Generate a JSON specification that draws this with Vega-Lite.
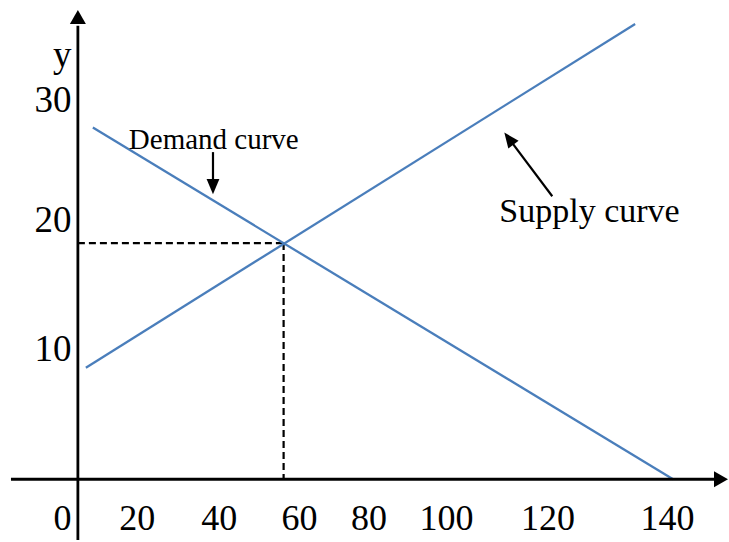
{
  "$schema": "https://vega.github.io/schema/vega-lite/v6.json",
  "width": 729,
  "height": 542,
  "autosize": {"type": "fit", "contains": "padding"},
  "padding": 0,
  "background": "white",
  "config": {"view": {"stroke": null}},
  "encoding": {
    "x": {"field": "x", "type": "quantitative", "scale": {"domain": [-18.32, 152.92], "nice": false, "zero": false}, "axis": null},
    "y": {"field": "y", "type": "quantitative", "scale": {"domain": [-4.75, 37.46], "nice": false, "zero": false}, "axis": null}
  },
  "layer": [
    {
      "data": {"values": [
        {"x": 0, "y": 18.46, "x2": 48.39, "y2": 18.46},
        {"x": 48.39, "y": 18.46, "x2": 48.39, "y2": 0}
      ]},
      "mark": {"type": "rule", "color": "black", "strokeWidth": 2.2, "strokeDash": [7, 4]},
      "encoding": {"x2": {"field": "x2"}, "y2": {"field": "y2"}}
    },
    {
      "data": {"values": [
        {"curve": "Demand", "x": 3.52, "y": 27.49},
        {"curve": "Demand", "x": 140, "y": 0},
        {"curve": "Supply", "x": 1.88, "y": 8.72},
        {"curve": "Supply", "x": 131.08, "y": 35.59}
      ]},
      "mark": {"type": "line", "color": "#4a7ebb", "strokeWidth": 2.3},
      "encoding": {"detail": {"field": "curve", "type": "nominal"}}
    },
    {
      "data": {"values": [
        {"axis": "x", "x": -15.74, "y": 0, "x2": 150.34, "y2": 0},
        {"axis": "y", "x": 0, "y": -4.75, "x2": 0, "y2": 35.44}
      ]},
      "mark": {"type": "rule", "color": "black", "strokeWidth": 2.8},
      "encoding": {"x2": {"field": "x2"}, "y2": {"field": "y2"}}
    },
    {
      "data": {"values": [{"axis": "y", "x": 0, "y": 36.14}]},
      "mark": {"type": "point", "shape": "M0,-0.875L1,0.875L-1,0.875Z", "filled": true, "size": 256, "color": "black", "opacity": 1, "strokeWidth": 0, "angle": 0}
    },
    {
      "data": {"values": [{"axis": "x", "x": 151.28, "y": 0}]},
      "mark": {"type": "point", "shape": "M0,-0.875L1,0.875L-1,0.875Z", "filled": true, "size": 256, "color": "black", "opacity": 1, "strokeWidth": 0, "angle": 90}
    },
    {
      "data": {"values": [
        {"note": "Demand curve", "x": 31.78, "y": 25.57, "x2": 31.78, "y2": 22.9},
        {"note": "Supply curve", "x": 111.58, "y": 22.12, "x2": 101.44, "y2": 26.6}
      ]},
      "mark": {"type": "rule", "color": "black", "strokeWidth": 2.2},
      "encoding": {"x2": {"field": "x2"}, "y2": {"field": "y2"}}
    },
    {
      "data": {"values": [{"note": "Demand curve", "x": 31.78, "y": 22.9}]},
      "mark": {"type": "point", "shape": "M0,-1L0.8,0.9L-0.8,0.9Z", "filled": true, "size": 256, "color": "black", "opacity": 1, "strokeWidth": 0, "angle": 180}
    },
    {
      "data": {"values": [{"note": "Supply curve", "x": 101.44, "y": 26.6}]},
      "mark": {"type": "point", "shape": "M0,-1L0.8,0.9L-0.8,0.9Z", "filled": true, "size": 256, "color": "black", "opacity": 1, "strokeWidth": 0, "angle": -36.87}
    },
    {
      "data": {"values": [
        {"label": "0", "x": -3.64, "y": -3.97},
        {"label": "20", "x": 13.98, "y": -3.97},
        {"label": "40", "x": 33.24, "y": -3.97},
        {"label": "60", "x": 52.15, "y": -3.97},
        {"label": "80", "x": 68.48, "y": -3.97},
        {"label": "100", "x": 86.68, "y": -3.97},
        {"label": "120", "x": 110.57, "y": -3.97},
        {"label": "140", "x": 138.71, "y": -3.97}
      ]},
      "mark": {"type": "text", "font": "Liberation Serif", "fontSize": 36, "color": "black", "align": "center", "baseline": "alphabetic"},
      "encoding": {"text": {"field": "label", "type": "nominal"}}
    },
    {
      "data": {"values": [
        {"label": "y", "x": -1.53, "y": 32.24},
        {"label": "30", "x": -1.53, "y": 28.74},
        {"label": "20", "x": -1.53, "y": 19.29},
        {"label": "10", "x": -1.53, "y": 9.27}
      ]},
      "mark": {"type": "text", "font": "Liberation Serif", "fontSize": 37, "color": "black", "align": "right", "baseline": "alphabetic"},
      "encoding": {"text": {"field": "label", "type": "nominal"}}
    },
    {
      "data": {"values": [{"note": "Demand curve", "x": 11.98, "y": 25.83}]},
      "mark": {"type": "text", "font": "Liberation Serif", "fontSize": 29, "color": "black", "align": "left", "baseline": "alphabetic"},
      "encoding": {"text": {"field": "note", "type": "nominal"}}
    },
    {
      "data": {"values": [{"note": "Supply curve", "x": 99.13, "y": 20.07}]},
      "mark": {"type": "text", "font": "Liberation Serif", "fontSize": 34, "color": "black", "align": "left", "baseline": "alphabetic"},
      "encoding": {"text": {"field": "note", "type": "nominal"}}
    }
  ]
}
